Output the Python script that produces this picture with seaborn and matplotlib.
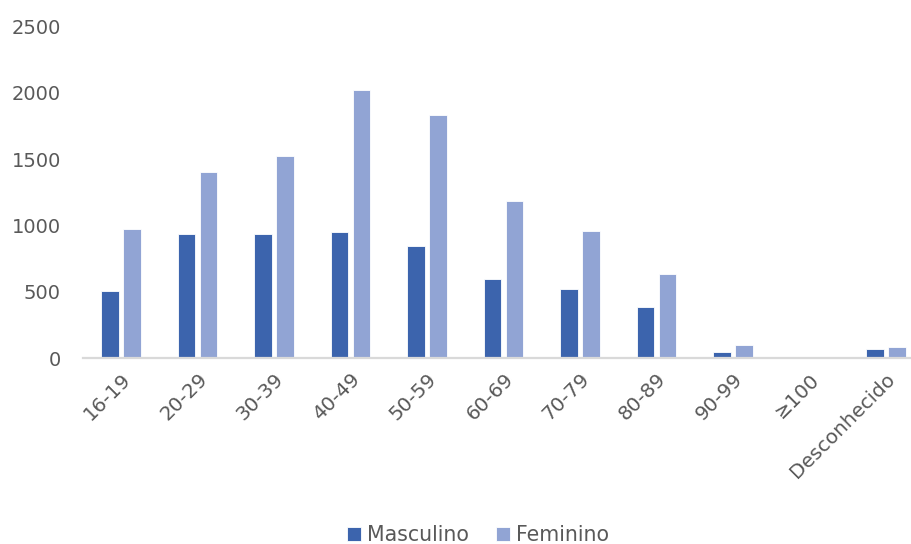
import matplotlib
matplotlib.use("Agg")
import matplotlib.pyplot as plt
import pandas as pd
import seaborn as sns

# Age groups and case counts by sex
age_groups = ["16-19", "20-29", "30-39", "40-49", "50-59", "60-69",
              "70-79", "80-89", "90-99", "≥100", "Desconhecido"]
masculino = [510, 940, 937, 952, 845, 600, 525, 385, 50, 0, 70]
feminino = [975, 1405, 1525, 2020, 1830, 1183, 962, 635, 100, 0, 87]
series = ["Masculino", "Feminino"]
colors = ["#3C64AD", "#91A4D4"]
y_ticks = [0, 500, 1000, 1500, 2000, 2500]

df = pd.DataFrame({
    "Faixa": age_groups * 2,
    "Sexo": [series[0]] * len(age_groups) + [series[1]] * len(age_groups),
    "Casos": masculino + feminino,
})

sns.set_theme(style="white")
plt.rcParams["font.family"] = ["DejaVu Sans"]
text_color = "#595959"

fig = plt.figure(figsize=(9.12, 5.44), dpi=100)
W, H = 912, 544
ax = fig.add_axes([83 / W, 1 - 358.3 / H, (924 - 83) / W, (358.3 - 26.5) / H])

sns.barplot(data=df, x="Faixa", y="Casos", hue="Sexo", order=age_groups,
            hue_order=series, palette=colors, saturation=1, width=0.575,
            gap=0.2, edgecolor="white", linewidth=0.6, ax=ax)

ax.set_xlim(-0.5, len(age_groups) - 0.5)
ax.set_ylim(0, 2500)
ax.set_yticks(y_ticks)
ax.set_xlabel("")
ax.set_ylabel("")

for side in ["top", "right", "left"]:
    ax.spines[side].set_visible(False)
ax.spines["bottom"].set_color("#D9D9D9")
ax.spines["bottom"].set_linewidth(1.6)

ax.tick_params(axis="y", length=0, pad=16, labelsize=14, labelcolor=text_color)
ax.tick_params(axis="x", length=0, pad=8, labelsize=14.3, labelcolor=text_color)
for lbl in ax.get_xticklabels():
    lbl.set_rotation(45)
    lbl.set_ha("right")
    lbl.set_rotation_mode("anchor")

handles, labels = ax.get_legend_handles_labels()
ax.get_legend().remove()
fig.legend(handles, labels, loc="center", bbox_to_anchor=(478 / W, 1 - 535 / H),
           ncol=2, frameon=False, fontsize=14.8, labelcolor=text_color,
           handlelength=0.7, handleheight=0.7, handletextpad=0.3,
           columnspacing=1.3)

fig.savefig("out.png", dpi=100)
